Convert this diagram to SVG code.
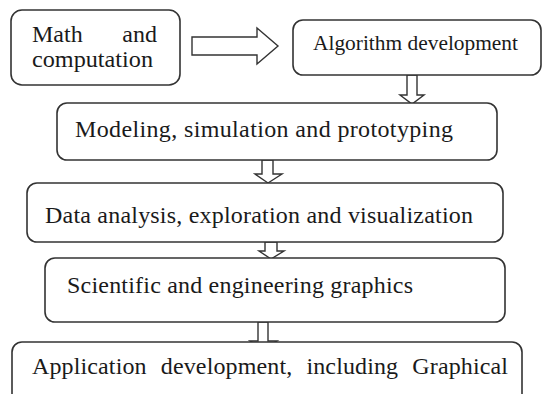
<svg xmlns="http://www.w3.org/2000/svg" width="543" height="394" viewBox="0 0 543 394">
<style>
.box{fill:#fff;stroke:#333;stroke-width:1.6}
.arr{fill:#fff;stroke:#333;stroke-width:1.4;stroke-linejoin:miter}
text{font-family:'Liberation Serif','Times New Roman',serif;fill:#1a1a1a}
.t{font-size:24px}
</style>
<rect width="543" height="394" fill="#fff"/>
<g id="connectors">
<polygon class="arr" points="192,37 257,37 257,28 278,46 257,64 257,55 192,55"/>
<polygon class="arr" points="407,75 417,75 417,95 424,95 412,104 400,95 407,95"/>
<polygon class="arr" points="262,160 273,160 273,174 282,174 268,183 255,174 262,174"/>
<polygon class="arr" points="265,242 277,242 277,251 284,251 271,259 259,251 265,251"/>
<polygon class="arr" points="258,322 268,322 268,341 277,341 263,350 250,341 258,341"/>
</g>
<g id="n1">
<rect class="box" x="11" y="10" width="169" height="75" rx="11"/>
<text class="t" x="32" y="42" font-family="Liberation Serif">Math</text>
<text class="t" x="157" y="42" text-anchor="end" font-family="Liberation Serif">and</text>
<text class="t" x="32" y="67" textLength="121" lengthAdjust="spacingAndGlyphs" font-family="Liberation Serif">computation</text>
</g>
<g id="n2">
<rect class="box" x="293" y="20" width="248" height="55" rx="10"/>
<text x="313" y="50" font-size="21" textLength="205" lengthAdjust="spacingAndGlyphs" font-family="Liberation Serif">Algorithm development</text>
</g>
<g id="n3">
<rect class="box" x="57" y="103" width="440" height="57" rx="10"/>
<text class="t" x="75" y="137" textLength="378" lengthAdjust="spacing" font-family="Liberation Serif">Modeling, simulation  and prototyping</text>
</g>
<g id="n4">
<rect class="box" x="27" y="183" width="476" height="59" rx="10"/>
<text class="t" x="45" y="223" textLength="428" lengthAdjust="spacing" font-family="Liberation Serif">Data analysis,  exploration  and visualization</text>
</g>
<g id="n5">
<rect class="box" x="45" y="258" width="460" height="64" rx="10"/>
<text class="t" x="67" y="293" textLength="346" lengthAdjust="spacing" font-family="Liberation Serif">Scientific and engineering  graphics</text>
</g>
<g id="n6">
<rect class="box" x="12" y="342" width="510" height="70" rx="10"/>
<text class="t" x="32" y="374" textLength="476" lengthAdjust="spacing" word-spacing="8" font-family="Liberation Serif">Application  development,  including  Graphical</text>
</g>
</svg>
